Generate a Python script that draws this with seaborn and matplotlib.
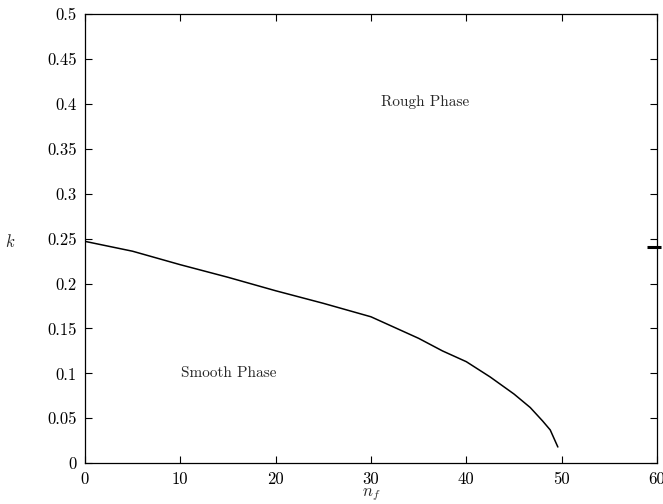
import matplotlib
matplotlib.use("Agg")
import matplotlib.pyplot as plt
import seaborn as sns
import pandas as pd

# data
n_f = [0, 5, 10, 15, 20, 25, 30, 35, 37.5, 40, 42.5, 45, 46.7, 48, 48.8, 49.6]
k = [0.247, 0.236, 0.221, 0.207, 0.192, 0.178, 0.163, 0.139, 0.125, 0.113,
     0.096, 0.077, 0.062, 0.047, 0.037, 0.018]
marker_x = [59.7]
marker_k = [0.2405]
xticks = [0, 10, 20, 30, 40, 50, 60]
yticks = [0, 0.05, 0.1, 0.15, 0.2, 0.25, 0.3, 0.35, 0.4, 0.45, 0.5]
ytick_labels = ["0", "0.05", "0.1", "0.15", "0.2", "0.25", "0.3", "0.35", "0.4", "0.45", "0.5"]

sns.set_style("ticks")
plt.rcParams["font.family"] = ["cmr10", "DejaVu Serif"]
plt.rcParams["mathtext.fontset"] = "cm"
plt.rcParams["axes.formatter.use_mathtext"] = True

fig = plt.figure(figsize=(6.63, 5.04), dpi=100)
ax = fig.add_axes([0.128, 0.081, 0.863, 0.891])

df = pd.DataFrame({"n_f": n_f, "k": k})
sns.lineplot(data=df, x="n_f", y="k", color="black", linewidth=1.1, ax=ax, sort=False)
ax.plot(marker_x, marker_k, marker="_", markersize=10, markeredgewidth=2.2,
        color="black", clip_on=False, linestyle="none")

ax.set_xlim(0, 60)
ax.set_ylim(0, 0.5)
ax.set_xticks(xticks)
ax.set_xticklabels([str(v) for v in xticks])
ax.set_yticks(yticks)
ax.set_yticklabels(ytick_labels)
ax.tick_params(direction="in", top=True, right=True, length=5, width=0.8,
               labelsize=12, colors="black", pad=6)
for s in ax.spines.values():
    s.set_linewidth(0.9)
    s.set_color("black")

ax.set_xlabel("$n_f$", fontsize=12, labelpad=0)
ax.xaxis.set_label_coords(0.5, -0.052)
ax.set_ylabel("$k$", fontsize=12, rotation=0, va="center", ha="center")
ax.yaxis.set_label_coords(-0.131, 0.494)

ax.text(35.7, 0.402, "Rough Phase", fontsize=11, ha="center", va="center")
ax.text(15.1, 0.100, "Smooth Phase", fontsize=11, ha="center", va="center")

fig.savefig("out.png", dpi=100)
